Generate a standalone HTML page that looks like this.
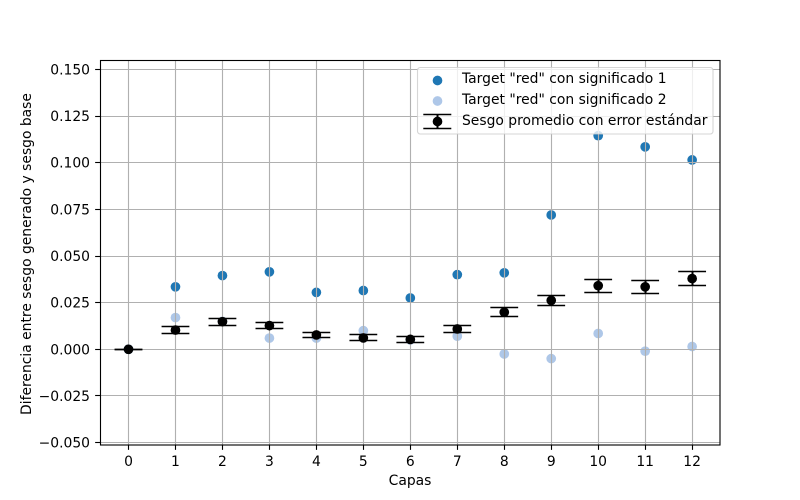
<!DOCTYPE html>
<html>
<head>
<meta charset="utf-8">
<style>
html,body{margin:0;padding:0;background:#fff;}
svg{display:block;}
text{font-family:"DejaVu Sans","Liberation Sans",sans-serif;font-size:13.89px;fill:#000;}
</style>
</head>
<body>
<svg id="chart" width="800" height="500" viewBox="0 0 800 500" xmlns="http://www.w3.org/2000/svg"></svg>
<script>
const categories = [0,1,2,3,4,5,6,7,8,9,10,11,12];
const series1 = [0,0.0335,0.0395,0.0415,0.0305,0.0315,0.0275,0.040,0.041,0.072,0.1145,0.1085,0.1015];
const series2 = [0,0.017,0.015,0.006,0.006,0.010,0.005,0.007,-0.0025,-0.005,0.0085,-0.001,0.0015];
const meanBias = [0,0.0103,0.0148,0.0127,0.0077,0.0061,0.0053,0.0109,0.0199,0.0262,0.0341,0.0335,0.0379];
const stdError = [0,0.0019,0.0018,0.0016,0.0013,0.0016,0.0016,0.0019,0.0024,0.0027,0.0035,0.0035,0.00375];
const yTicks = [-0.05,-0.025,0,0.025,0.05,0.075,0.1,0.125,0.15];
const legendLabels = ['Target "red" con significado 1','Target "red" con significado 2','Sesgo promedio con error estándar'];

const svg = document.getElementById('chart');
const NS = 'http://www.w3.org/2000/svg';
const plot = {left:100, right:720, top:60, bottom:445};
function xScale(v){ return 128.5 + v * 46.97; }
function yScale(v){ return 349.3 - v * 1866; }
function snap(p){ return Math.round(p - 0.5) + 0.5; }
function mk(tag, attrs, parent){
  const el = document.createElementNS(NS, tag);
  for (const k in attrs) el.setAttribute(k, attrs[k]);
  (parent || svg).appendChild(el);
  return el;
}

const bg = mk('rect',{x:plot.left,y:plot.top,width:plot.right-plot.left,height:plot.bottom-plot.top,fill:'#fff'});



// scatter series
const s1g = mk('g',{});


categories.forEach(function(c,i){
  const p = mk('circle',{cx:xScale(c),cy:yScale(series1[i]),r:4.85,fill:'#1f77b4'},s1g);
  
  
});
const s2g = mk('g',{});


categories.forEach(function(c,i){
  const p = mk('circle',{cx:xScale(c),cy:yScale(series2[i]),r:4.85,fill:'#aec7e8'},s2g);
  
  
});

// grid
const grid = mk('g',{stroke:'#b0b0b0','stroke-width':1.11,fill:'none'});


categories.forEach(function(c){
  const x = snap(xScale(c));
  const l = mk('line',{x1:x,x2:x,y1:plot.top,y2:plot.bottom},grid);
  
  
});
yTicks.forEach(function(t){
  const y = snap(yScale(t));
  const l = mk('line',{x1:plot.left,x2:plot.right,y1:y,y2:y},grid);
  
  
});

// error bars
const eb = mk('g',{});


categories.forEach(function(c,i){
  const x = xScale(c), sx = snap(x);
  const hi = snap(yScale(meanBias[i]+stdError[i]));
  const lo = snap(yScale(meanBias[i]-stdError[i]));
  const stem = mk('line',{x1:sx,x2:sx,y1:hi,y2:lo,stroke:'#000','stroke-width':2},eb);
  
  
  [hi,lo].forEach(function(y){
    const cap = mk('line',{x1:x-13.9,x2:x+13.9,y1:y,y2:y,stroke:'#000','stroke-width':1.39},eb);
    
    
  });
  const m = mk('circle',{cx:x,cy:yScale(meanBias[i]),r:4.85,fill:'#000'},eb);
  
  
});

// ticks and tick labels
const xt = mk('g',{});


categories.forEach(function(c){
  const x = snap(xScale(c));
  const t = mk('line',{x1:x,x2:x,y1:plot.bottom,y2:plot.bottom+4.86,stroke:'#000','stroke-width':1.11},xt);
  
  
  const lb = mk('text',{x:xScale(c),y:466,'text-anchor':'middle'},xt);
  lb.textContent = String(c);
  
  
});
const yt = mk('g',{});


yTicks.forEach(function(v){
  const y = snap(yScale(v));
  const t = mk('line',{x1:plot.left-4.86,x2:plot.left,y1:y,y2:y,stroke:'#000','stroke-width':1.11},yt);
  
  
  const lb = mk('text',{x:90,y:yScale(v)+5,'text-anchor':'end'},yt);
  lb.textContent = (v < 0 ? '\u2212' : '') + Math.abs(v).toFixed(3);
  
  
});

// frame
const frame = mk('rect',{x:100.5,y:60.5,width:619.5,height:384.5,fill:'none',stroke:'#000','stroke-width':1.11});



// axis titles
const xTitle = mk('text',{x:410,y:485,'text-anchor':'middle'});
xTitle.textContent = 'Capas';


const yTitle = mk('text',{x:0,y:0,'text-anchor':'middle',transform:'translate(31,254) rotate(-90)'});
yTitle.textContent = 'Diferencia entre sesgo generado y sesgo base';



// legend
const lg = mk('g',{});


const box = mk('rect',{x:417.5,y:67.5,width:295.5,height:66.5,rx:2.8,ry:2.8,fill:'#fff','fill-opacity':0.8,stroke:'#ccc','stroke-opacity':0.8,'stroke-width':1.11},lg);


const lgY = [83,104,125];
const k1 = mk('circle',{cx:437.5,cy:80.5,r:4.85,fill:'#1f77b4'},lg);


const k2 = mk('circle',{cx:437.5,cy:101,r:4.85,fill:'#aec7e8'},lg);


const k3s = mk('line',{x1:437.5,x2:437.5,y1:114,y2:128.5,stroke:'#000','stroke-width':2},lg);


[114.5,128.5].forEach(function(y){
  const c = mk('line',{x1:423.3,x2:451.3,y1:y,y2:y,stroke:'#000','stroke-width':1.39},lg);
  
  
});
const k3 = mk('circle',{cx:437.5,cy:121.5,r:4.85,fill:'#000'},lg);


legendLabels.forEach(function(txt,i){
  const t = mk('text',{x:462,y:lgY[i]},lg);
  t.textContent = txt;
  
  
});
</script>
</body>
</html>
